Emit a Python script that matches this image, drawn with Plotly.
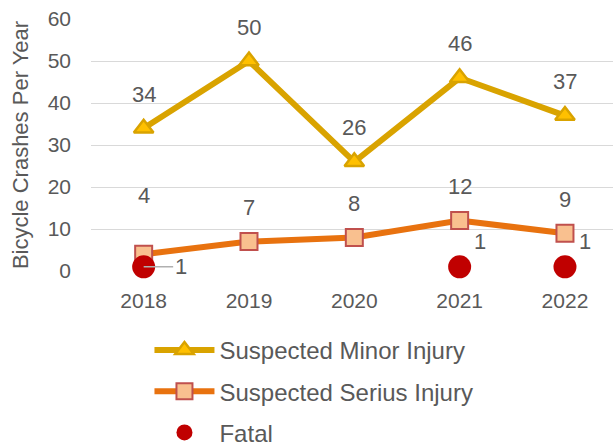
import plotly.graph_objects as go

years = ["2018", "2019", "2020", "2021", "2022"]
minor = [34, 50, 26, 46, 37]
serious = [4, 7, 8, 12, 9]
fatal_years = ["2018", "2021", "2022"]
fatal = [1, 1, 1]

FONT = "Liberation Sans, Arial, sans-serif"
GRAY = "#595959"

fig = go.Figure()
fig.add_trace(go.Scatter(
    x=years, y=minor, mode="lines+markers", name="Suspected Minor Injury",
    line=dict(color="#D9A300", width=6), legendgroup="a",
    marker=dict(symbol="triangle-up", size=17, color="#FFC000",
                line=dict(color="#D9A300", width=2.5))))
fig.add_trace(go.Scatter(
    x=years, y=serious, mode="lines+markers", name="Suspected Serius Injury",
    line=dict(color="#E8720F", width=6), legendgroup="b",
    marker=dict(symbol="square", size=17, color="#F9C08F",
                line=dict(color="#C0504D", width=2))))
fig.add_trace(go.Scatter(
    x=fatal_years, y=fatal, mode="markers", name="Fatal", legendgroup="c",
    cliponaxis=False,
    marker=dict(symbol="circle", size=23, color="#C00000")))

idx = {y: i for i, y in enumerate(years)}
lab_font = dict(family=FONT, size=22, color=GRAY)

# data labels (category axis -> serial index positions)
for x, v in zip(years, minor):
    fig.add_annotation(x=idx[x], y=v, text=str(v), showarrow=False,
                       yshift=34, font=lab_font)
for i, (x, v) in enumerate(zip(years, serious)):
    fig.add_annotation(x=idx[x], y=v, text=str(v), showarrow=False,
                       yshift=59 if i == 0 else 34, font=lab_font)
for i, (x, v) in enumerate(zip(fatal_years, fatal)):
    if i == 0:
        fig.add_annotation(x=idx[x], y=v, text=str(v), showarrow=True,
                           arrowhead=0, arrowwidth=1.5, arrowcolor="#B0B0B0",
                           ax=37, ay=0, standoff=0, font=lab_font)
    else:
        fig.add_annotation(x=idx[x], y=v, text=str(v), showarrow=False,
                           xshift=20, yshift=25, font=lab_font)

fig.update_layout(
    width=613, height=445,
    margin=dict(l=91, r=0, t=19, b=174, autoexpand=False),
    plot_bgcolor="white", paper_bgcolor="white",
    font=dict(family=FONT, size=22, color=GRAY),
    showlegend=True,
    legend=dict(orientation="v", x=0.112, y=-0.226, xanchor="left",
                yanchor="top", tracegroupgap=7, itemwidth=60,
                font=dict(family=FONT, size=24, color=GRAY),
                bgcolor="rgba(0,0,0,0)"),
    xaxis=dict(type="category", range=[-0.5, 4.456], showgrid=False,
               showline=False, zeroline=False, ticks="", tickangle=0,
               ticklabelstandoff=15,
               tickfont=dict(family=FONT, size=21, color=GRAY)),
    yaxis=dict(range=[0, 60], dtick=10, showgrid=True, gridcolor="#D9D9D9",
               gridwidth=1.3, zeroline=False, showline=False, ticks="",
               ticklabelstandoff=19,
               tickfont=dict(family=FONT, size=21, color=GRAY),
               title=dict(text="Bicycle Crashes Per Year", standoff=12,
                          font=dict(family=FONT, size=22, color=GRAY))),
)
fig.write_html("out.html")
